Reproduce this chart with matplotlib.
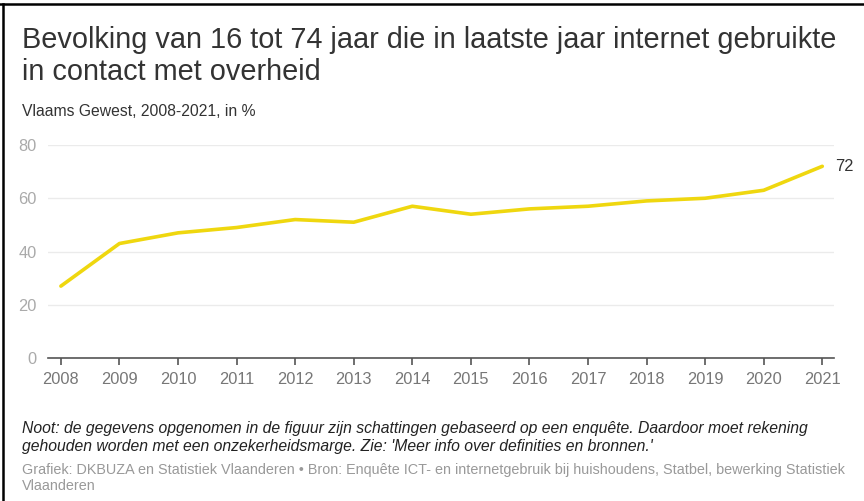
import matplotlib.pyplot as plt
from matplotlib.lines import Line2D

years = [2008, 2009, 2010, 2011, 2012, 2013, 2014, 2015, 2016, 2017, 2018, 2019, 2020, 2021]
values = [27, 43, 47, 49, 52, 51, 57, 54, 56, 57, 59, 60, 63, 72]
y_ticks = [0, 20, 40, 60, 80]

title = "Bevolking van 16 tot 74 jaar die in laatste jaar internet gebruikte\nin contact met overheid"
subtitle = "Vlaams Gewest, 2008-2021, in %"
note = ("Noot: de gegevens opgenomen in de figuur zijn schattingen gebaseerd op een enquête. Daardoor moet rekening\n"
        "gehouden worden met een onzekerheidsmarge. Zie: 'Meer info over definities en bronnen.'")
source = ("Grafiek: DKBUZA en Statistiek Vlaanderen • Bron: Enquête ICT- en internetgebruik bij huishoudens, Statbel, bewerking Statistiek\n"
          "Vlaanderen")

plt.rcParams['font.family'] = ['Liberation Sans', 'DejaVu Sans']

fig = plt.figure(figsize=(8.64, 5.01), dpi=100)
W, H = 864, 501

ax = fig.add_axes([48 / W, 1 - 358 / H, 786 / W, 213 / H])
ax.plot(years, values, color='#efd70f', lw=2.6, solid_capstyle='round', solid_joinstyle='round', zorder=3)
ax.text(years[-1] + 0.22, values[-1], str(values[-1]), color='#333333', fontsize=11.8, va='center', ha='left')

ax.set_xlim(2007.78, 2021.2)
ax.set_ylim(0, 80)
ax.set_yticks(y_ticks)
ax.set_xticks(years)
ax.grid(axis='y', color='#ebebeb', lw=1)
ax.set_axisbelow(True)
for s in ['top', 'right', 'left']:
    ax.spines[s].set_visible(False)
ax.spines['bottom'].set_color('#555555')
ax.spines['bottom'].set_linewidth(1.2)
ax.tick_params(axis='x', colors='#555555', length=5, width=1.2, labelsize=11.8, labelcolor='#777777', pad=5)
ax.tick_params(axis='y', length=0, labelsize=11.8, labelcolor='#aaaaaa', pad=8)

# title, subtitle, footnotes: one text per line so each can be placed on its own
fig.text(22 / W, 1 - 40 / H, title.split('\n')[0], fontsize=20.8, color='#333333', va='center', ha='left')
fig.text(22 / W, 1 - 72 / H, title.split('\n')[1], fontsize=20.8, color='#333333', va='center', ha='left')
fig.text(22 / W, 1 - 111 / H, subtitle, fontsize=11.3, color='#333333', va='center', ha='left')
fig.text(22 / W, 1 - 428 / H, note.split('\n')[0], fontsize=11.3, color='#222222', style='italic', va='center', ha='left')
fig.text(22 / W, 1 - 446 / H, note.split('\n')[1], fontsize=11.3, color='#222222', style='italic', va='center', ha='left')
fig.text(22 / W, 1 - 470 / H, source.split('\n')[0], fontsize=10.4, color='#999999', va='center', ha='left')
fig.text(22 / W, 1 - 486 / H, source.split('\n')[1], fontsize=10.4, color='#999999', va='center', ha='left')

# frame lines on top and left
fig.add_artist(Line2D([0, 1], [1 - 4 / H, 1 - 4 / H], color='black', lw=1.8, transform=fig.transFigure))
fig.add_artist(Line2D([2.5 / W, 2.5 / W], [0, 1 - 4 / H], color='black', lw=1.8, transform=fig.transFigure))

fig.savefig('out.png', dpi=100)
